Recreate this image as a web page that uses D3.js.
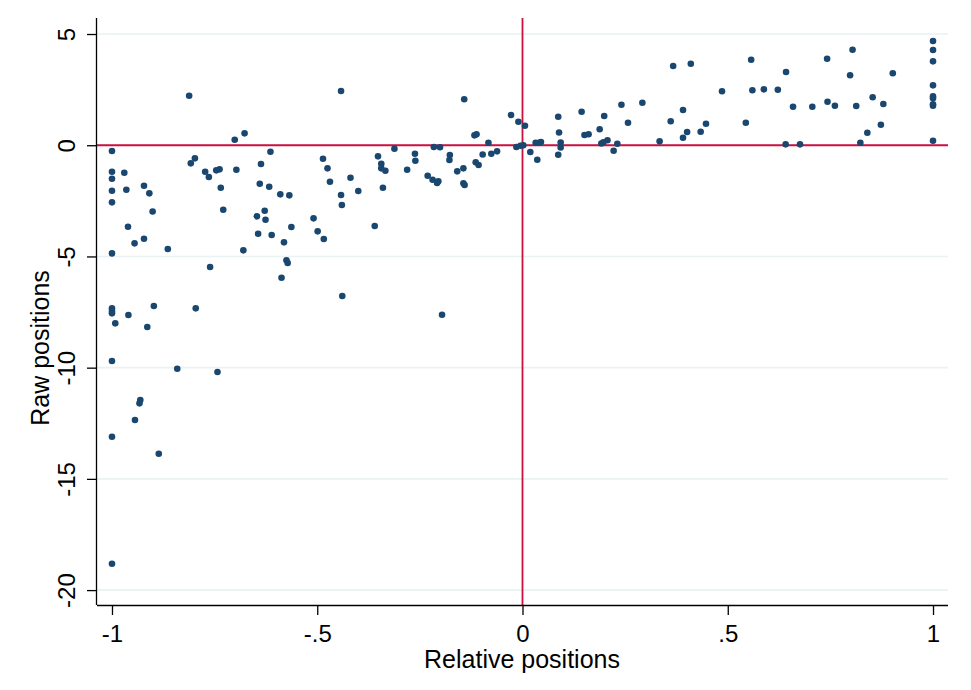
<!DOCTYPE html>
<html>
<head>
<meta charset="utf-8">
<script src="https://cdn.jsdelivr.net/npm/d3@7"></script>
<style>
  html, body { margin: 0; padding: 0; background: #fff; }
  svg text { font-family: "Liberation Sans", Arial, sans-serif; fill: #000; }
</style>
</head>
<body>
<div id="chart"></div>
<script>
// relative position (x) and raw position (y), paired by index
const relPos = [
  -0.812, -0.701, -0.677, -1, -0.808, -0.798, -1, -0.970, -1, -0.773,
  -0.764, -0.746, -0.738, -0.697, -0.637, -0.614, -1, -0.965, -0.922, -0.909,
  -0.735, -0.640, -0.617, -0.590, -0.568, -1, -0.901, -0.729, -0.628, -0.647,
  -0.626, -0.961, -0.922, -0.945, -0.864, -0.644, -0.611, -0.563, -0.581, -0.680,
  -1, -0.761, -0.575, -0.572, -0.587, -1, -1, -1, -0.898, -0.960,
  -0.796, -0.992, -0.914, -1, -0.841, -0.743, -0.931, -0.933, -0.944, -1,
  -0.886, -1,
  -0.442, -0.142, -0.028, -0.010, 0.006, -0.117, -0.112, -0.083, -0.216, -0.201,
  -0.312, -0.015, -0.005, 0.002, 0.019, -0.486, -0.352, -0.262, -0.261, -0.177,
  -0.178, -0.097, -0.076, -0.062, -0.344, -0.344, -0.334, -0.475, -0.281, -0.159,
  -0.144, -0.114, -0.107, -0.469, -0.419, -0.231, -0.219, -0.205, -0.208, -0.144,
  -0.141, -0.442, -0.400, -0.340, -0.440, -0.509, -0.499, -0.484, -0.360, -0.439,
  -0.196,
  0.036, 0.032, 0.040, 0.045, 0.087, 0.089, 0.093, 0.093, 0.087, 0.144,
  0.151, 0.161, 0.188, 0.199, 0.192, 0.197, 0.207, 0.231, 0.222, 0.241,
  0.257, 0.292, 0.334, 0.361, 0.367, 0.410, 0.391, 0.391, 0.401, 0.434,
  0.447, 0.486,
  0.557, 0.560, 0.588, 0.622, 0.642, 0.659, 0.544, 0.641, 0.676, 0.706,
  0.742, 0.743, 0.761, 0.804, 0.798, 0.813, 0.823, 0.840, 0.853, 0.873,
  0.879, 0.902, 1, 1, 1, 1, 1, 1, 1, 1,
  1
];
const rawPos = [
  2.226, 0.247, 0.535, -0.261, -0.814, -0.589, -1.192, -1.236, -1.506, -1.192,
  -1.430, -1.129, -1.084, -1.102, -0.845, -0.292, -2.046, -2.001, -1.821, -2.163,
  -1.911, -1.731, -1.866, -2.208, -2.253, -2.567, -2.981, -2.900, -2.945, -3.197,
  -3.350, -3.665, -4.204, -4.411, -4.667, -3.979, -4.038, -3.678, -4.366, -4.726,
  -4.861, -5.477, -5.175, -5.297, -5.958, -7.334, -7.455, -7.558, -7.230, -7.635,
  -7.334, -8.008, -8.174, -9.703, -10.049, -10.198, -11.457, -11.605, -12.356, -13.107,
  -13.871, -18.818,
  2.437, 2.064, 1.358, 1.057, 0.877, 0.445, 0.490, 0.112, -0.081, -0.094,
  -0.157, -0.081, -0.022, -0.004, -0.306, -0.607, -0.499, -0.382, -0.697, -0.441,
  -0.665, -0.418, -0.382, -0.274, -0.832, -1.039, -1.147, -1.039, -1.102, -1.174,
  -1.039, -0.764, -0.890, -1.641, -1.461, -1.371, -1.551, -1.623, -1.700, -1.713,
  -1.790, -2.239, -2.059, -1.911, -2.689, -3.287, -3.871, -4.218, -3.633, -6.781,
  -7.621,
  -0.652, 0.112, 0.112, 0.144, 1.281, 0.571, 0.121, -0.103, -0.427, 1.506,
  0.459, 0.495, 0.719, 1.313, 0.076, 0.130, 0.225, 0.067, -0.247, 1.817,
  1.012, 1.911, 0.175, 1.075, 3.561, 3.665, 1.583, 0.337, 0.594, 0.607,
  0.967, 2.424,
  3.844, 2.469, 2.513, 2.496, 3.291, 1.731, 1.012, 0.040, 0.040, 1.731,
  3.889, 1.956, 1.776, 4.294, 3.143, 1.763, 0.112, 0.562, 2.154, 0.922,
  1.853, 3.233, 4.685, 4.281, 3.772, 2.693, 2.199, 2.109, 1.839, 1.776,
  0.202
];

const xTicks = [-1, -0.5, 0, 0.5, 1];
const xTickLabels = ['-1', '-.5', '0', '.5', '1'];
const yTicks = [5, 0, -5, -10, -15, -20];
const yTickLabels = ['5', '0', '-5', '-10', '-15', '-20'];

const W = 971, H = 690;
const margin = { top: 18, right: 23, bottom: 85, left: 97 };
const width = W - margin.left - margin.right;
const height = H - margin.top - margin.bottom;

const svg = d3.select('#chart').append('svg')
  .attr('width', W)
  .attr('height', H);

const g = svg.append('g')
  .attr('transform', `translate(${margin.left},${margin.top})`);

const x = d3.scaleLinear().domain([-1.0365, 1.0365]).range([0, width]);
const y = d3.scaleLinear().domain([-20.67, 5.72]).range([height, 0]);

// horizontal grid
g.selectAll('.grid')
  .data(yTicks)
  .enter().append('line')
  .attr('class', 'grid')
  .attr('x1', 0).attr('x2', width)
  .attr('y1', d => y(d)).attr('y2', d => y(d))
  .style('stroke', '#eaf2f3')
  .style('stroke-width', 1.6);

// reference lines at zero
g.append('line')
  .attr('x1', 0).attr('x2', width)
  .attr('y1', y(0)).attr('y2', y(0))
  .style('stroke', '#cc1040')
  .style('stroke-width', 1.8);
g.append('line')
  .attr('x1', x(0)).attr('x2', x(0))
  .attr('y1', 0).attr('y2', height)
  .style('stroke', '#cc1040')
  .style('stroke-width', 1.8);

// points
g.selectAll('circle')
  .data(relPos.map((v, i) => ({ x: v, y: rawPos[i] })))
  .enter().append('circle')
  .attr('cx', d => x(d.x))
  .attr('cy', d => y(d.y))
  .attr('r', 3.3)
  .style('fill', '#1a476f');

// axes
const xAxis = d3.axisBottom(x)
  .tickValues(xTicks)
  .tickFormat((d, i) => xTickLabels[i])
  .tickSize(10)
  .tickPadding(6);
const xg = g.append('g')
  .attr('transform', `translate(0,${height})`)
  .call(xAxis);
xg.select('.domain').attr('d', `M0,0.5H${width}`).style('stroke-width', 1.3);
xg.selectAll('.tick line').style('stroke-width', 1.3);
xg.selectAll('.tick text')
  .attr('y', 37)
  .attr('dy', null)
  .style('font-size', '24px');

const yAxis = d3.axisLeft(y)
  .tickValues(yTicks)
  .tickFormat((d, i) => yTickLabels[i])
  .tickSize(10);
const yg = g.append('g').call(yAxis);
yg.select('.domain').attr('d', `M-0.5,0V${height}`).style('stroke-width', 1.3);
yg.selectAll('.tick line').style('stroke-width', 1.3);
yg.selectAll('.tick text')
  .attr('x', null).attr('dy', null)
  .attr('transform', 'translate(-22,0) rotate(-90)')
  .attr('text-anchor', 'middle')
  .style('font-size', '24px');

// axis titles
svg.append('text')
  .attr('x', 522)
  .attr('y', 668)
  .attr('text-anchor', 'middle')
  .style('font-size', '25px')
  .text('Relative positions');

svg.append('text')
  .attr('transform', 'translate(49,348) rotate(-90)')
  .attr('text-anchor', 'middle')
  .style('font-size', '25px')
  .text('Raw positions');
</script>
</body>
</html>
